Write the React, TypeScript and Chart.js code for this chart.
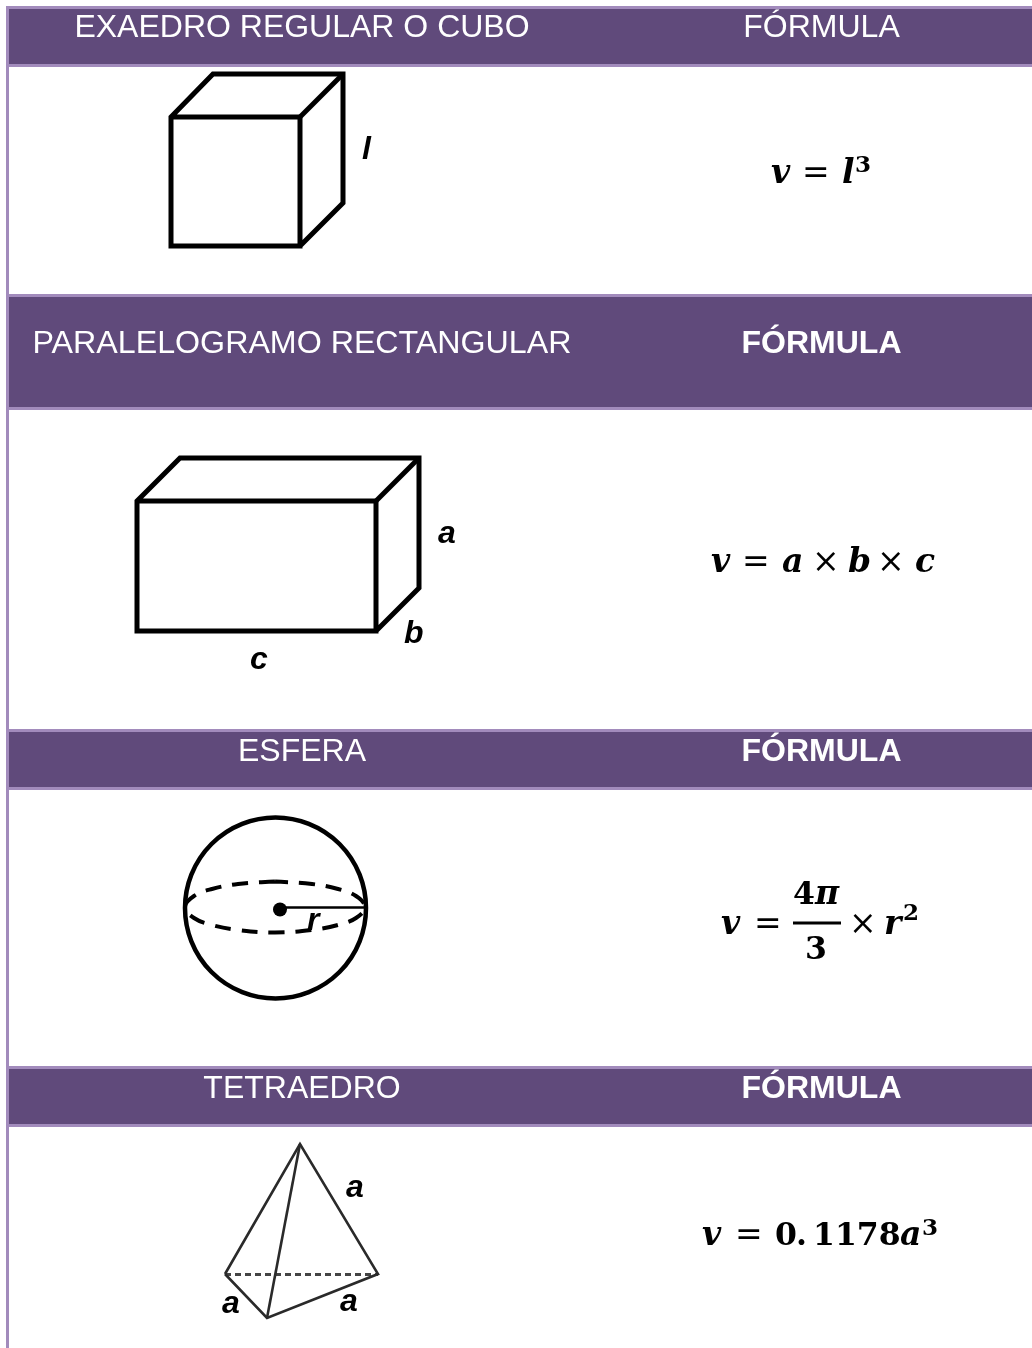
import React, { useEffect, useRef } from "react";
import { Chart, registerables } from "chart.js";

Chart.register(...registerables);

const WIDTH = 1032;
const HEIGHT = 1348;
const BAND = "#604A7B";
const RULE = "#A28BBC";

const sectionTitles = ["EXAEDRO REGULAR O CUBO", "PARALELOGRAMO RECTANGULAR", "ESFERA", "TETRAEDRO"];
const formulaHeader = "FÓRMULA";

const bandTops = [9, 297, 732, 1069];
const bandBottoms = [64, 407, 787, 1124];

const cubeOutline = [[171, 117], [300, 117], [300, 246], [171, 246], [171, 117], [213, 74], [343, 74], [343, 203], [300, 246]];
const cubeInner = [[300, 117], [343, 74]];
const boxOutline = [[137, 501], [376, 501], [376, 631], [137, 631], [137, 501], [180, 458], [419, 458], [419, 588], [376, 631]];
const boxInner = [[376, 501], [419, 458]];
const equator = [[275, 881.5], [238, 884], [212, 889], [194, 896], [185, 907], [194, 918], [212, 925], [238, 930], [275, 932.5], [312, 930], [338, 925], [356, 918], [365, 907], [356, 896], [338, 889], [312, 884], [275, 881.5]];
const sphereOutline = [[275.5, 908]];
const sphereCentre = [[280, 909.5]];
const sphereRadius = [[280, 907.5], [366, 907.5]];
const tetraEdges = [[225, 1274], [300, 1144], [378, 1274], [267, 1318], [225, 1274]];
const tetraSpine = [[300, 1144], [267, 1318]];
const tetraHidden = [[225, 1274.5], [378, 1274.5]];
const fractionBar = [[793, 923], [841, 923]];

const SERIF = "'DejaVu Serif'";
const BI = `bold italic 33px ${SERIF}`;
const B = `bold 31.5px ${SERIF}`;
const R = `33px ${SERIF}`;
const SUP = `bold 23px ${SERIF}`;
const LABEL = "italic bold 32px 'Liberation Sans'";

const formulaPieces: [string, number, number, string][] = [
  ["v", 771, 183, BI], ["=", 802, 183, R], ["l", 842, 183, BI], ["3", 855, 172, SUP],
  ["v", 711, 572, BI], ["=", 742, 572, R], ["a", 782, 572, BI], ["×", 812, 572, R], ["b", 848, 572, BI], ["×", 877, 572, R], ["c", 915, 572, BI],
  ["v", 721, 934, BI], ["=", 754, 934, R], ["4", 793, 904, B], ["π", 815, 904, BI], ["3", 805, 959, B], ["×", 849, 934, R], ["r", 884, 934, BI], ["2", 903, 920, SUP],
  ["v", 702, 1245, BI], ["=", 735, 1245, R], ["0", 775, 1245, B], [".", 796, 1245, B], ["1178", 813, 1245, B], ["a", 900, 1245, BI], ["3", 922, 1235, SUP],
];

const figureLabels: [string, number, number][] = [
  ["l", 362, 159], ["a", 438, 543], ["b", 404, 643], ["c", 250, 669], ["r", 307, 930], ["a", 346, 1197], ["a", 222, 1313], ["a", 340, 1311],
];

const titleBaselines = [37, 353, 761, 1098];
const titleSizes = [32, 32.2, 32, 32];

const pts = (a: number[][]) => a.map(([x, y]) => ({ x, y }));

const line = (data: number[][], width: number, color = "#000", extra: object = {}) => ({
  data: pts(data),
  showLine: true,
  borderColor: color,
  borderWidth: width,
  pointRadius: 0,
  fill: false,
  borderJoinStyle: "miter",
  ...extra,
});

export default function App() {
  const ref = useRef<HTMLCanvasElement>(null);
  useEffect(() => {
    const textPlugin = {
      id: "tableText",
      afterDatasetsDraw(chart: any) {
        const { ctx, scales } = chart;
        const put = (t: string, x: number, y: number, font: string, color: string, align: CanvasTextAlign = "left") => {
          ctx.font = font;
          ctx.fillStyle = color;
          ctx.textAlign = align;
          ctx.textBaseline = "alphabetic";
          ctx.fillText(t, scales.x.getPixelForValue(x), scales.y.getPixelForValue(y));
        };
        ctx.save();
        sectionTitles.forEach((t, i) => {
          const base = titleBaselines[i];
          put(t, 302, base, `${titleSizes[i]}px 'Liberation Sans'`, "#fff", "center");
          put(formulaHeader, 821.5, base, `${i === 0 ? "" : "bold "}32px 'Liberation Sans'`, "#fff", "center");
        });
        formulaPieces.forEach(([t, x, y, f]) => put(t, x, y, f, "#000"));
        figureLabels.forEach(([t, x, y]) => put(t, x, y, LABEL, "#000"));
        ctx.restore();
      },
    };
    const bands = bandTops.map((top, i) => ({
      data: pts([[9, top], [WIDTH, top]]),
      showLine: true,
      borderWidth: 0,
      pointRadius: 0,
      backgroundColor: BAND,
      fill: { value: bandBottoms[i] },
    }));
    const rules = [...bandTops.map((t) => t - 1.5), ...bandBottoms.map((b) => b + 1.5)].map((y) =>
      line([[6, y], [WIDTH, y]], 3, RULE)
    );
    const chart = new Chart(ref.current!, {
      type: "scatter",
      data: {
        datasets: [
          ...bands,
          ...rules,
          line([[7.5, 6], [7.5, HEIGHT]], 3, RULE),
          line(cubeOutline, 5),
          line(cubeInner, 5),
          line(boxOutline, 5),
          line(boxInner, 5),
          line(equator, 4, "#000", { borderDash: [16, 11], tension: 0.4 }),
          { data: pts(sphereOutline), pointRadius: 90.5, pointBorderWidth: 4.5, pointBorderColor: "#000", pointBackgroundColor: "rgba(0,0,0,0)" },
          { data: pts(sphereCentre), pointRadius: 7, pointBorderWidth: 0, pointBackgroundColor: "#000" },
          line(sphereRadius, 2.5),
          line(tetraEdges, 2.6, "#2a2a2a"),
          line(tetraSpine, 2.6, "#2a2a2a"),
          line(tetraHidden, 3, "#444", { borderDash: [6, 4] }),
          line(fractionBar, 3),
        ] as any,
      },
      options: {
        animation: false,
        responsive: false,
        events: [],
        layout: { padding: 0, autoPadding: false },
        plugins: { legend: { display: false }, tooltip: { enabled: false }, title: { display: false } },
        scales: {
          x: { type: "linear", min: 0, max: WIDTH, display: false },
          y: { type: "linear", min: 0, max: HEIGHT, reverse: true, display: false },
        },
      },
      plugins: [textPlugin],
    });
    return () => chart.destroy();
  }, []);
  return (
    <div style={{ position: "absolute", left: 0, top: 0, width: WIDTH, height: HEIGHT, background: "#fff", overflow: "hidden" }}>
      <canvas ref={ref} width={WIDTH} height={HEIGHT} style={{ display: "block" }} />
    </div>
  );
}
